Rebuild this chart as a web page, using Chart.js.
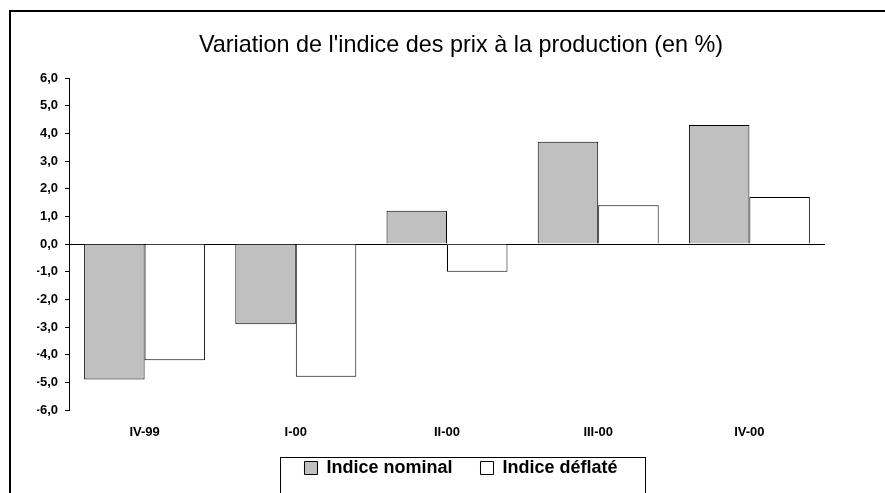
<!DOCTYPE html>
<html>
<head>
<meta charset="utf-8">
<script src="https://cdn.jsdelivr.net/npm/chart.js@4/dist/chart.umd.min.js"></script>
<style>
  html, body { margin: 0; padding: 0; background: #fff; }
  #wrap { width: 885px; height: 493px; }
</style>
</head>
<body>
<div id="wrap"><canvas id="prixChart"></canvas></div>
<script>
var categories = ['IV-99', 'I-00', 'II-00', 'III-00', 'IV-00'];
var indiceNominal = [-4.9, -2.9, 1.2, 3.7, 4.3];
var indiceDeflate = [-4.2, -4.8, -1.0, 1.4, 1.7];
var yMin = -6;
var yMax = 6;

var police = '"Liberation Sans", Arial, sans-serif';
var ecartLegende = 28; // espace entre les deux elements de la legende

// cadre autour du graphique + cadre de la legende
var cadres = {
    id: 'cadres',
    afterLayout: function (chart) {
        // le padding de la legende sert a l'ecart horizontal, on remonte le texte
        chart.legend.top -= (ecartLegende - 9);
    },
    beforeDraw: function (chart) {
        var ctx = chart.ctx;
        ctx.save();
        ctx.fillStyle = '#fff';
        ctx.fillRect(0, 0, chart.width, chart.height);
        ctx.strokeStyle = '#000';
        ctx.lineWidth = 2;
        ctx.strokeRect(10, 11, 900, 500);
        ctx.restore();
    },
    afterDraw: function (chart) {
        var boxes = chart.legend.legendHitBoxes;
        if (!boxes || !boxes.length) return;
        var left = boxes[0].left - 24;
        var last = boxes[boxes.length - 1];
        var right = last.left + last.width + 28;
        var ctx = chart.ctx;
        ctx.save();
        ctx.strokeStyle = '#000';
        ctx.lineWidth = 1;
        ctx.strokeRect(Math.round(left) + 0.5, 457.5, Math.round(right - left), 60);
        ctx.restore();
    }
};

var prixChart = new Chart(document.getElementById('prixChart').getContext('2d'), {
    type: 'bar',
    data: {
        labels: categories,
        datasets: [
            {
                label: 'Indice nominal',
                data: indiceNominal,
                backgroundColor: '#c0c0c0',
                borderColor: '#000',
                borderWidth: 1
            },
            {
                label: 'Indice déflaté',
                data: indiceDeflate,
                backgroundColor: '#fff',
                borderColor: '#000',
                borderWidth: 1
            }
        ]
    },
    options: {
        responsive: true,
        maintainAspectRatio: false,
        animation: false,
        devicePixelRatio: 1,
        categoryPercentage: 0.8,
        barPercentage: 1,
        layout: {
            padding: { left: 37, right: 0, top: 10, bottom: 6 }
        },
        scales: {
            x: {
                grid: { display: false, tickLength: 0 },
                border: { display: false },
                ticks: {
                    color: '#000',
                    padding: 15,
                    font: { family: police, size: 13, weight: 'bold' }
                },
                afterFit: function (s) { s.height = 40; }
            },
            y: {
                min: yMin,
                max: yMax,
                ticks: {
                    stepSize: 1,
                    color: '#000',
                    padding: 7,
                    font: { family: police, size: 13, weight: 'bold' },
                    callback: function (value) {
                        return value.toFixed(1).replace('.', ',');
                    }
                },
                grid: {
                    color: function (c) { return c.tick && c.tick.value === 0 ? '#000' : 'rgba(0,0,0,0)'; },
                    tickColor: '#000',
                    tickLength: 4,
                    lineWidth: 1
                },
                border: { display: true, color: '#000', width: 1 },
                afterFit: function (s) { s.width = 32; }
            },
            droite: {
                position: 'right',
                display: true,
                ticks: { display: false },
                grid: { display: false },
                border: { display: false },
                afterFit: function (s) { s.width = 60; }
            }
        },
        plugins: {
            title: {
                display: true,
                text: "Variation de l'indice des prix à la production (en %)",
                color: '#000',
                font: { family: police, size: 23.4, weight: 'normal' },
                padding: { top: 22, bottom: 18 }
            },
            legend: {
                position: 'bottom',
                maxHeight: 37,
                labels: {
                    color: '#000',
                    boxWidth: 13,
                    boxHeight: 13,
                    padding: ecartLegende,
                    font: { family: police, size: 18, weight: 'bold' }
                }
            },
            tooltip: { enabled: false }
        }
    },
    plugins: [cadres]
});
</script>
</body>
</html>
